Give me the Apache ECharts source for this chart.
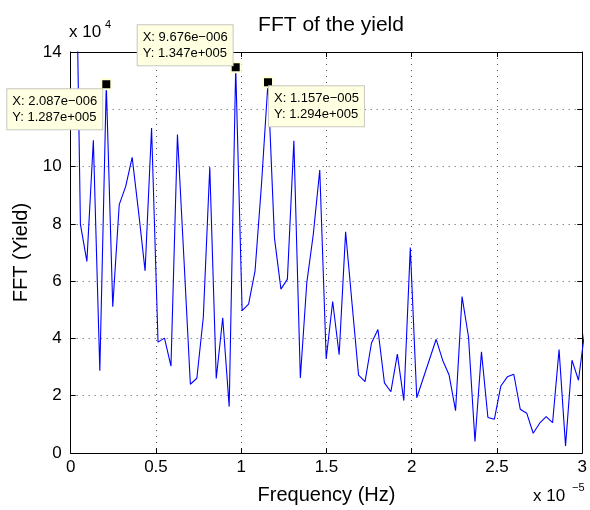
<!DOCTYPE html>
<html>
<head>
<meta charset="utf-8">
<script src="https://cdn.jsdelivr.net/npm/echarts@6/dist/echarts.min.js"></script>
<style>html,body{margin:0;padding:0;background:#fff}#c{width:590px;height:510px}</style>
</head>
<body>
<div id="c"></div>
<script>
// Frequency bins, in units of 1e-6 Hz
const freqE6 = [0.190, 0.570, 0.949, 1.328, 1.708, 2.087, 2.466, 2.846, 3.225, 3.604,
  3.984, 4.363, 4.742, 5.122, 5.501, 5.880, 6.260, 6.639, 7.018, 7.398,
  7.777, 8.156, 8.536, 8.915, 9.294, 9.676, 10.053, 10.432, 10.811, 11.191,
  11.570, 11.949, 12.329, 12.708, 13.087, 13.467, 13.846, 14.225, 14.605, 14.984,
  15.363, 15.743, 16.122, 16.501, 16.881, 17.260, 17.639, 18.018, 18.398, 18.777,
  19.156, 19.536, 19.915, 20.294, 20.674, 21.053, 21.432, 21.812, 22.191, 22.570,
  22.950, 23.329, 23.708, 24.088, 24.467, 24.846, 25.226, 25.605, 25.984, 26.363,
  26.743, 27.122, 27.501, 27.881, 28.260, 28.639, 29.019, 29.398, 29.777, 30.157];
// FFT magnitude of the yield
const fftYield = [226000, 79800, 66900, 109200, 28700, 128700, 51100, 86700, 93100, 103200,
  84000, 63600, 113500, 38700, 40100, 30300, 111200, 68000, 24000, 26100,
  47400, 99800, 26000, 47200, 16200, 134700, 49700, 52000, 63600, 94000,
  129400, 75100, 57200, 60700, 109000, 26200, 59500, 76300, 98800, 32900,
  52900, 34300, 77200, 52000, 27200, 24900, 38400, 43100, 24500, 21400,
  34500, 18300, 71700, 19300, 26100, 32900, 39700, 32400, 27200, 14800,
  54600, 40500, 4000, 35300, 12400, 11800, 23400, 26600, 27500, 15300,
  13900, 6900, 10400, 12700, 10600, 36100, 2500, 32400, 25400, 43000];
// Data tips (indices into the arrays above)
const tipIndex = [5, 25, 30];
const xTicks = [0, 0.5, 1, 1.5, 2, 2.5, 3];
const yTicks = [0, 2, 4, 6, 8, 10, 12, 14];

const tipLabelPos = [[-93, 11], [-92, -36], [7, 10]];

function matlabExp(v) {
  const s = v.toExponential(3);
  const m = s.split('e');
  const e = parseInt(m[1], 10);
  const sign = e < 0 ? '\u2212' : '+';
  return m[0] + 'e' + sign + String(Math.abs(e)).padStart(3, '0');
}

const font = 'Liberation Sans, Arial, Helvetica, sans-serif';
const lineData = freqE6.map((f, i) => [f / 10, fftYield[i]]);

const chart = echarts.init(document.getElementById('c'), null, {renderer: 'canvas'});
const gridStyle = {show: true, lineStyle: {type: [1, 5], color: '#555', width: 1}};
chart.setOption({
  animation: false,
  backgroundColor: '#fff',
  title: {
    text: 'FFT of the yield', left: 326, top: 10, textAlign: 'center',
    textStyle: {fontFamily: font, fontSize: 21, fontWeight: 'normal', color: '#000'}
  },
  grid: {left: 70.7, right: 7.5, top: 52, bottom: 55, containLabel: false},
  xAxis: [{
    type: 'value', min: xTicks[0], max: xTicks[xTicks.length - 1], interval: 0.5,
    name: 'Frequency (Hz)', nameLocation: 'middle', nameGap: 32,
    nameTextStyle: {fontFamily: font, fontSize: 20, color: '#000'},
    axisLine: {show: true, lineStyle: {color: '#000', width: 1}},
    axisTick: {show: true, inside: true, length: 5, lineStyle: {color: '#000'}},
    axisLabel: {fontFamily: font, fontSize: 17, color: '#000', margin: 6,
      formatter: v => String(Math.round(v * 10) / 10)},
    splitLine: gridStyle
  }, {
    type: 'value', position: 'top', min: xTicks[0], max: xTicks[xTicks.length - 1], interval: 0.5,
    axisLine: {show: true, onZero: false, lineStyle: {color: '#000', width: 1}},
    axisTick: {show: true, inside: true, length: 5, lineStyle: {color: '#000'}},
    axisLabel: {show: false}, splitLine: {show: false}
  }],
  yAxis: [{
    type: 'value', min: yTicks[0] * 1e4, max: yTicks[yTicks.length - 1] * 1e4, interval: 20000,
    name: 'FFT (Yield)', nameLocation: 'middle', nameGap: 39,
    nameTextStyle: {fontFamily: font, fontSize: 20, color: '#000'},
    axisLine: {show: true, lineStyle: {color: '#000', width: 1}},
    axisTick: {show: true, inside: true, length: 5, lineStyle: {color: '#000'}},
    axisLabel: {fontFamily: font, fontSize: 17, color: '#000', margin: 9,
      formatter: v => String(Math.round(v / 1e4))},
    splitLine: gridStyle
  }, {
    type: 'value', position: 'right', min: yTicks[0] * 1e4, max: yTicks[yTicks.length - 1] * 1e4, interval: 20000,
    axisLine: {show: true, onZero: false, lineStyle: {color: '#000', width: 1}},
    axisTick: {show: true, inside: true, length: 5, lineStyle: {color: '#000'}},
    axisLabel: {show: false}, splitLine: {show: false}
  }],
  graphic: [
    {type: 'text', left: 69, top: 24, style: {text: 'x 10', fontFamily: font, fontSize: 17, fill: '#000'}},
    {type: 'text', left: 105, top: 19, style: {text: '4', fontFamily: font, fontSize: 11, fill: '#000'}},
    {type: 'text', left: 533, top: 488, style: {text: 'x 10', fontFamily: font, fontSize: 17, fill: '#000'}},
    {type: 'text', left: 572, top: 482, style: {text: '\u22125', fontFamily: font, fontSize: 11, fill: '#000'}}
  ],
  series: [{
    type: 'line', xAxisIndex: 0, yAxisIndex: 0,
    data: lineData, showSymbol: false, symbol: 'none', clip: true,
    lineStyle: {color: '#0000FF', width: 1.1},
    markPoint: {
      symbol: 'rect', symbolSize: 10,
      itemStyle: {color: '#000', borderColor: '#FFFFD8', borderWidth: 2},
      label: {
        show: true, color: '#000', fontFamily: font, fontSize: 13, lineHeight: 16,
        backgroundColor: '#FFFFE1', borderColor: '#C8C8C0', borderWidth: 1,
        padding: [4, 5, 4, 5], align: 'left', verticalAlign: 'top',
        formatter: p => 'X: ' + matlabExp(p.data.fx) + '\nY: ' + matlabExp(p.data.fy)
      },
      data: tipIndex.map((k, j) => ({
        coord: [freqE6[k] / 10, fftYield[k]], fx: freqE6[k] * 1e-6, fy: fftYield[k],
        label: {position: tipLabelPos[j]}
      }))
    }
  }]
});
</script>
</body>
</html>
